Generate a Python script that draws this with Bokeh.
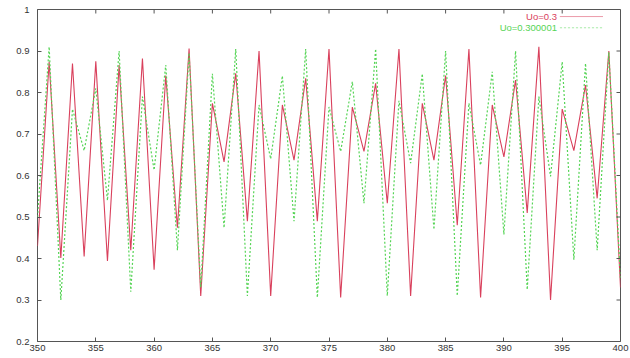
from bokeh.plotting import figure
from bokeh.models import FixedTicker, Label, BoxAnnotation, Range1d
from bokeh.embed import file_html
from bokeh.resources import INLINE

n_values = list(range(350, 401))
u_red = [0.43, 0.874, 0.401, 0.87, 0.405, 0.875, 0.394, 0.866, 0.42, 0.882,
         0.373, 0.841, 0.474, 0.906, 0.31, 0.774, 0.633, 0.846, 0.49, 0.90,
         0.31, 0.77, 0.637, 0.834, 0.49, 0.905, 0.306, 0.765, 0.658, 0.822,
         0.533, 0.905, 0.31, 0.774, 0.637, 0.841, 0.48, 0.905, 0.306, 0.77,
         0.645, 0.83, 0.51, 0.91, 0.30, 0.76, 0.66, 0.818, 0.545, 0.90, 0.33]
u_green = [0.50, 0.91, 0.30, 0.76, 0.66, 0.81, 0.54, 0.90, 0.32, 0.79,
           0.613, 0.866, 0.42, 0.895, 0.33, 0.845, 0.474, 0.905, 0.31, 0.77,
           0.64, 0.84, 0.49, 0.905, 0.306, 0.765, 0.658, 0.826, 0.533, 0.905,
           0.31, 0.78, 0.63, 0.845, 0.47, 0.90, 0.31, 0.774, 0.625, 0.85,
           0.458, 0.90, 0.325, 0.79, 0.598, 0.874, 0.397, 0.87, 0.42, 0.897, 0.35]
labels = ["Uo=0.3", "Uo=0.300001"]
x_ticks = [350, 355, 360, 365, 370, 375, 380, 385, 390, 395, 400]
y_ticks = [0.2, 0.3, 0.4, 0.5, 0.6, 0.7, 0.8, 0.9, 1.0]

X0, X1, Y0, Y1 = 350, 400, 0.2, 1.0
RED = "#d9405c"
GREEN = "#55d455"
FONT = "Liberation Sans"
AXIS_COL = "#555555"

p = figure(width=630, height=358, output_backend="svg", toolbar_location=None,
           x_range=Range1d(X0, X1), y_range=Range1d(Y0, Y1),
           min_border_left=37, min_border_right=10, min_border_top=9,
           min_border_bottom=17)
p.background_fill_color = "white"
p.border_fill_color = "white"
p.outline_line_color = AXIS_COL
p.outline_line_width = 1
p.xgrid.visible = False
p.ygrid.visible = False

p.line(n_values, u_red, line_color=RED, line_width=1.1)
p.line(n_values, u_green, line_color=GREEN, line_width=1.2, line_dash="2 2")

for ax, ticks in ((p.xaxis[0], x_ticks), (p.yaxis[0], y_ticks)):
    ax.ticker = FixedTicker(ticks=ticks)
    ax.axis_line_color = None
    ax.major_tick_in = 4
    ax.major_tick_out = 0
    ax.minor_tick_line_color = None
    ax.major_tick_line_color = AXIS_COL
    ax.major_label_text_font = FONT
    ax.major_label_text_font_size = "9.5px"
    ax.major_label_text_color = "#333333"
p.yaxis[0].major_label_overrides = {1.0: "1"}
p.yaxis[0].major_label_standoff = 8
p.xaxis[0].major_label_standoff = 3

# mirrored tick marks on the top and right frame edges (4 px long)
frame_w = 630 - 37 - 10
frame_h = 358 - 9 - 17
ty = 4 * (Y1 - Y0) / frame_h
tx = 4 * (X1 - X0) / frame_w
p.segment(x0=x_ticks, y0=[Y1] * len(x_ticks), x1=x_ticks,
          y1=[Y1 - ty] * len(x_ticks), line_color=AXIS_COL, line_width=1)
p.segment(x0=[X1] * len(y_ticks), y0=y_ticks, x1=[X1 - tx] * len(y_ticks),
          y1=y_ticks, line_color=AXIS_COL, line_width=1)

# legend (gnuplot style: text then sample on the right)
lx_text = X1 - 5.45
lx0, lx1 = X1 - 5.2, X1 - 1.5
rows = [(labels[0], RED, "solid", Y1 - 0.017), (labels[1], GREEN, "2 2", Y1 - 0.044)]
for txt, col, dash, yy in rows:
    p.add_layout(Label(x=lx_text, y=yy, text=txt, text_align="right",
                       text_baseline="middle", text_color=col,
                       text_font=FONT, text_font_size="9.5px"))
    p.add_layout(BoxAnnotation(left=lx0, right=lx1, bottom=yy, top=yy,
                               fill_alpha=0, line_color=col, line_width=1,
                               line_dash=dash))

open("out.html", "w").write(file_html(p, INLINE))
